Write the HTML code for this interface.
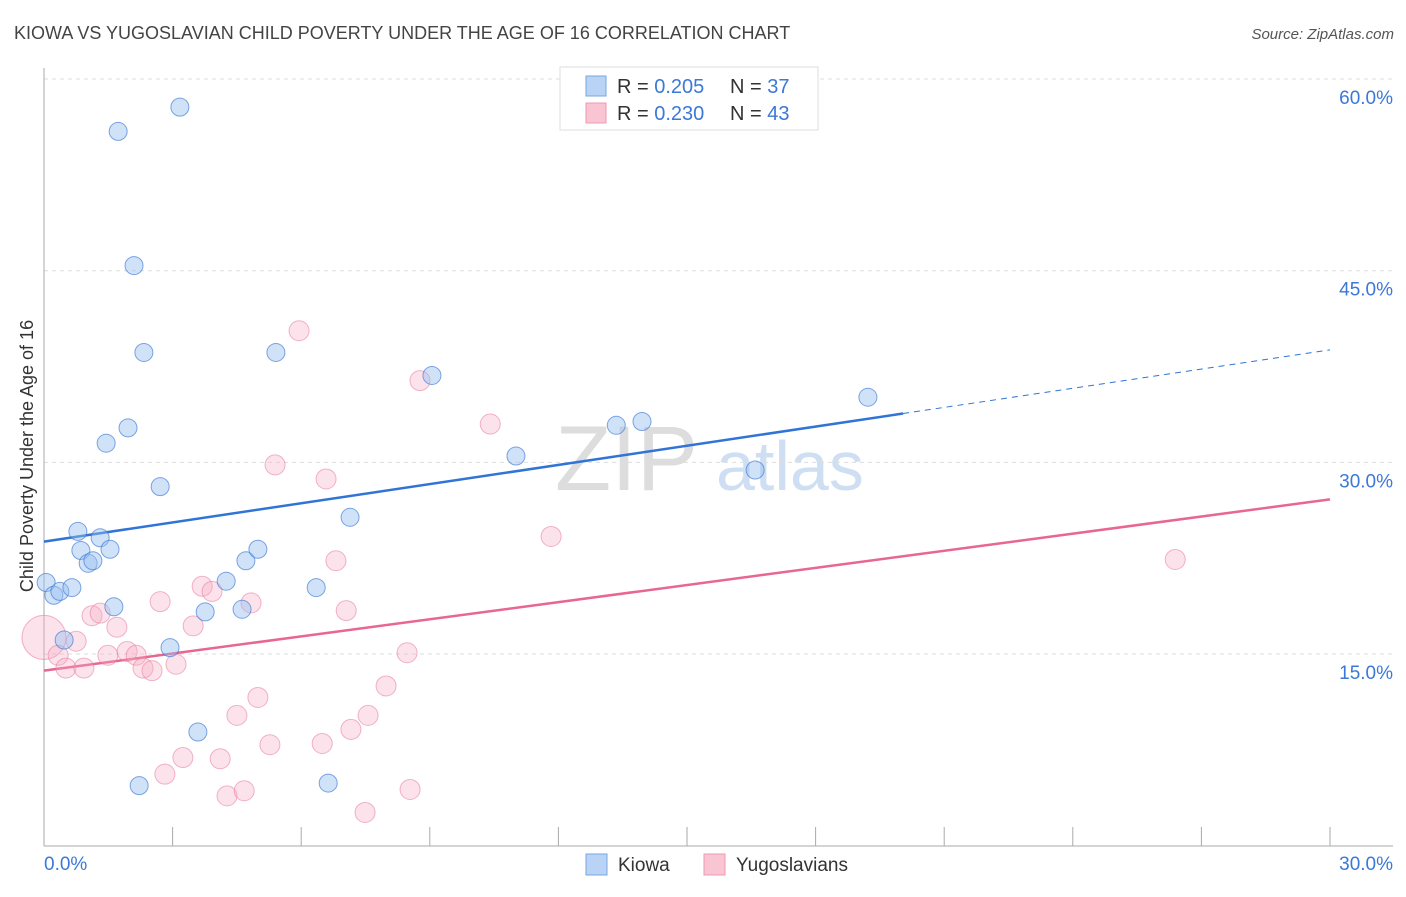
<!DOCTYPE html>
<html><head><meta charset="utf-8"><style>
body{margin:0;background:#fff;font-family:"Liberation Sans",sans-serif}
svg text{font-family:"Liberation Sans",sans-serif}
</style></head><body>
<svg id="chart" width="1406" height="892" xmlns="http://www.w3.org/2000/svg">
<text x="14" y="39" font-size="18" fill="#444">KIOWA VS YUGOSLAVIAN CHILD POVERTY UNDER THE AGE OF 16 CORRELATION CHART</text>
<text x="1394" y="39" font-size="15" fill="#555" text-anchor="end" font-style="italic">Source: ZipAtlas.com</text>
<text transform="translate(33,456) rotate(-90)" font-size="18" fill="#333" text-anchor="middle">Child Poverty Under the Age of 16</text>
<g><text x="555" y="490" font-size="92" fill="#ddd" font-family="Liberation Serif,serif">ZIP</text><text x="716" y="490" font-size="70" fill="#cfdff3">atlas</text></g>
<g id="grid"></g><g id="axes"></g><g id="lines"></g><g id="pts"></g>
<g>
<rect x="560" y="67" width="258" height="63" fill="#fff" stroke="#ddd"/>
<rect x="586" y="76" width="20" height="20" fill="#b8d3f5" stroke="#7aa7e0"/>
<rect x="586" y="103" width="20" height="20" fill="#f9c5d3" stroke="#ec9ab2"/>
<text x="617" y="93" font-size="20" fill="#333">R = <tspan fill="#3b78d8">0.205</tspan></text>
<text x="730" y="93" font-size="20" fill="#333">N = <tspan fill="#3b78d8">37</tspan></text>
<text x="617" y="120" font-size="20" fill="#333">R = <tspan fill="#3b78d8">0.230</tspan></text>
<text x="730" y="120" font-size="20" fill="#333">N = <tspan fill="#3b78d8">43</tspan></text>
</g>
<g>
<rect x="586" y="854" width="21" height="21" fill="#b8d3f5" stroke="#7aa7e0"/>
<text x="618" y="871" font-size="19" fill="#333">Kiowa</text>
<rect x="704" y="854" width="21" height="21" fill="#f9c5d3" stroke="#ec9ab2"/>
<text x="736" y="871" font-size="19" fill="#333">Yugoslavians</text>
</g>
</svg>
<script>
const kiowaX=[0.05,0.23,0.37,0.65,0.47,0.79,0.86,1.03,1.14,1.31,1.54,1.63,1.45,1.73,1.96,2.1,2.33,2.71,2.94,3.17,3.59,3.76,4.25,4.62,4.71,4.99,5.41,6.35,6.63,7.14,9.05,11.01,13.35,13.95,16.59,19.22,2.22];
const kiowaY=[20.6,19.6,19.9,20.2,16.1,24.6,23.1,22.1,22.3,24.1,23.2,18.7,31.5,55.9,32.7,45.4,38.6,28.1,15.5,57.8,8.9,18.3,20.7,18.5,22.3,23.2,38.6,20.2,4.9,25.7,36.8,30.5,32.9,33.2,29.4,35.1,4.7];
const yugoX=[0,0.33,0.51,0.75,0.93,1.12,1.31,1.49,1.70,1.94,2.15,2.31,2.52,2.71,2.82,3.08,3.24,3.48,3.69,3.92,4.11,4.27,4.50,4.67,4.83,4.99,5.27,5.39,5.95,6.49,6.58,6.81,7.05,7.16,7.49,7.56,7.98,8.47,8.54,8.77,10.41,11.83,26.39];
const yugoY=[16.3,14.9,13.9,16.0,13.9,18.0,18.2,14.9,17.1,15.2,14.9,13.9,13.7,19.1,5.6,14.2,6.9,17.2,20.3,19.9,6.8,3.9,10.2,4.3,19.0,11.6,7.9,29.8,40.3,8.0,28.7,22.3,18.4,9.1,2.6,10.2,12.5,15.1,4.4,36.4,33.0,24.2,22.4];
const yugoSize=[22,10,10,10,10,10,10,10,10,10,10,10,10,10,10,10,10,10,10,10,10,10,10,10,10,10,10,10,10,10,10,10,10,10,10,10,10,10,10,10,10,10,10];
const trendStart=[23.8,13.7];
const trendEnd=[38.8,27.1];
const yTicks=[15,30,45,60];
const xTicks=[0,3,6,9,12,15,18,21,24,27,30];
const NS="http://www.w3.org/2000/svg";
const X=v=>44+v/30*1286, Y=v=>845.7-v/15*191.67;
function mk(parent,tag,attrs){const e=document.createElementNS(NS,tag);for(const k in attrs)e.setAttribute(k,attrs[k]);document.getElementById(parent).appendChild(e);return e;}
yTicks.forEach(t=>{
 const l=mk('grid','line',{x1:44,x2:1393,y1:Y(t),y2:Y(t),stroke:'#ddd','stroke-dasharray':'4,4'});
 
 
 const tx=mk('grid','text',{x:1393,y:Y(t)+25,'font-size':19,fill:'#3b78d8','text-anchor':'end'});tx.textContent=t.toFixed(1)+'%';
 
 
});
const a1=mk('axes','line',{x1:44,x2:44,y1:68,y2:846,stroke:'#aaa'});


const a2=mk('axes','line',{x1:44,x2:1393,y1:846,y2:846,stroke:'#aaa'});


xTicks.forEach(t=>{
 const l=mk('axes','line',{x1:X(t),x2:X(t),y1:827,y2:846,stroke:'#aaa'});
 
 
});
const xl0=mk('axes','text',{x:44,y:870,'font-size':19,fill:'#3b78d8'});xl0.textContent='0.0%';


const xl1=mk('axes','text',{x:1393,y:870,'font-size':19,fill:'#3b78d8','text-anchor':'end'});xl1.textContent='30.0%';


const bm=(trendEnd[0]-trendStart[0])/30, solidEnd=20.04;
const b1=mk('lines','line',{x1:X(0),y1:Y(trendStart[0]),x2:X(solidEnd),y2:Y(trendStart[0]+bm*solidEnd),stroke:'#2f74d6','stroke-width':2.5});


const b2=mk('lines','line',{x1:X(solidEnd),y1:Y(trendStart[0]+bm*solidEnd),x2:X(30),y2:Y(trendEnd[0]),stroke:'#2f74d6','stroke-width':1,'stroke-dasharray':'6,5'});


const p1=mk('lines','line',{x1:X(0),y1:Y(trendStart[1]),x2:X(30),y2:Y(trendEnd[1]),stroke:'#e8668f','stroke-width':2.5});


yugoX.forEach((v,i)=>{
 const c=mk('pts','circle',{cx:X(v),cy:Y(yugoY[i]),r:yugoSize[i],fill:'rgba(246,170,195,0.33)',stroke:'rgba(232,120,158,0.55)','stroke-width':1});
 
 
});
kiowaX.forEach((v,i)=>{
 const c=mk('pts','circle',{cx:X(v),cy:Y(kiowaY[i]),r:9,fill:'rgba(150,190,240,0.45)',stroke:'rgba(60,120,210,0.65)','stroke-width':1});
 
 
});
</script>
</body></html>
